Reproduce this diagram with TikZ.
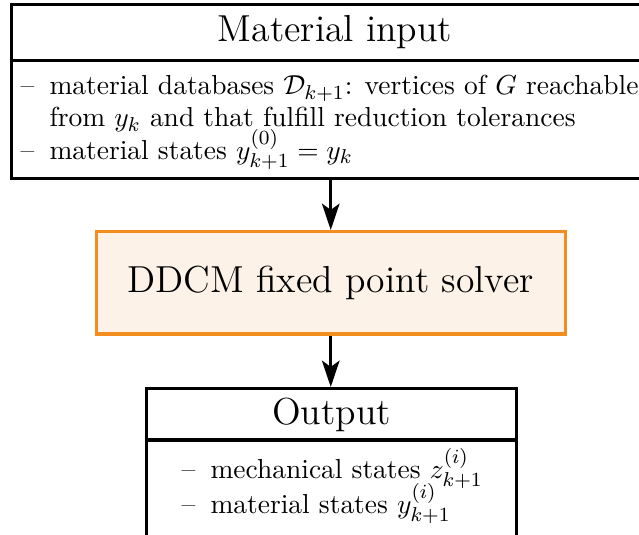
\documentclass[tikz,border=0pt]{standalone}
\usetikzlibrary{arrows.meta,fit}
\definecolor{solverorange}{RGB}{242,141,30}
\definecolor{solverfill}{RGB}{253,242,231}
\begin{document}
\begin{tikzpicture}[x=0.3984pt,y=-0.3984pt,
  boxframe/.style={draw=black, line width=1.2pt, inner sep=0pt},
  titletext/.style={font=\fontsize{14.98}{18}\selectfont, inner sep=0pt, anchor=base},
  bodytext/.style={font=\fontsize{10.95}{13.6}\selectfont, inner sep=0pt, anchor=base west},
  flow/.style={-{Stealth[length=10.5pt,width=7pt,inset=2.5pt]}, line width=1.2pt}]
\useasboundingbox (0,0) rectangle (639,535);
\clip (0,0) rectangle (639,535);

% input box
\node[boxframe, fit={(11.5,4.5) (661,178.5)}] (input) {};
\coordinate (indiv) at (0,60.5);
\draw[line width=1.2pt] (input.west |- indiv) -- (input.east |- indiv);
\node[titletext] (intitle) at (335,42) {Material input};
\node[bodytext] (in1dash) at (20,95) {\textendash};
\node[bodytext] (in1) at (49,95) {material databases $\mathcal{D}_{k+1}$: vertices of $G$ reachable};
\node[bodytext] (in2) at (49,127) {from $y_k$ and that fulfill reduction tolerances};
\node[bodytext] (in3dash) at (20,159) {\textendash};
\node[bodytext] (in3) at (49,159) {material states $y_{k+1}^{(0)} = y_k$};

% solver box
\node[draw=solverorange, fill=solverfill, line width=1.2pt, inner sep=0pt,
      fit={(96.5,231.5) (565,334)}] (solver) {};
\node[font=\fontsize{14.98}{18}\selectfont] (solvertext) at (solver.center) {DDCM fixed point solver};

% output box
\node[boxframe, fit={(146.5,388.5) (516.5,560)}] (output) {};
\coordinate (outdiv) at (0,440);
\draw[line width=1.2pt] (output.west |- outdiv) -- (output.east |- outdiv);
\node[titletext] (outtitle) at (331.5,424) {Output};
\node[bodytext] (out1dash) at (181,478) {\textendash};
\node[bodytext] (out1) at (210,478) {mechanical states $z_{k+1}^{(i)}$};
\node[bodytext] (out2dash) at (181,513) {\textendash};
\node[bodytext] (out2) at (210,513) {material states $y_{k+1}^{(i)}$};

% connectors
\draw[flow] (input.south -| solver.north) -- (solver.north);
\draw[flow] (solver.south) -- (output.north -| solver.south);
\end{tikzpicture}
\end{document}
